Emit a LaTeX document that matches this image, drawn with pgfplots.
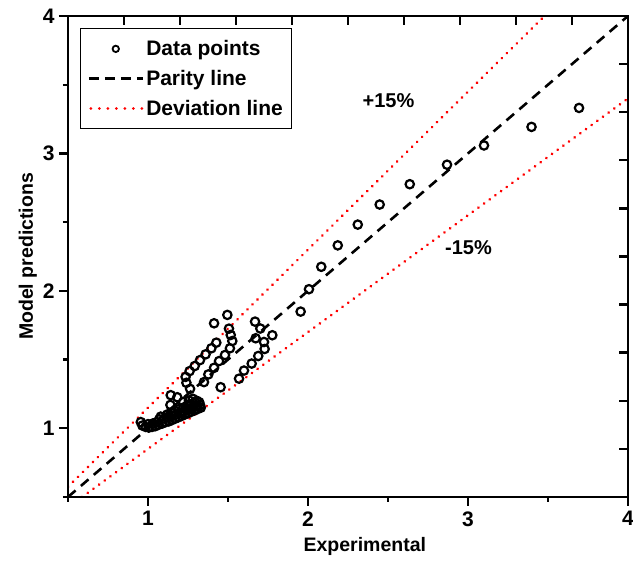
\documentclass[border=0pt]{standalone}
\usepackage{fontspec}
\setmainfont{Liberation Sans}
\usepackage{pgfplots}
\pgfplotsset{compat=1.18}
\begin{document}
\begin{tikzpicture}
\begin{axis}[
  at={(0,0)}, anchor=south west,
  scale only axis, width=560pt, height=481pt,
  xmin=0.5, xmax=4, ymin=0.5, ymax=4,
  xtick={1,2,3,4}, ytick={1,2,3,4},
  minor xtick={0.5,1.5,2.5,3.5}, minor ytick={0.5,1.5,2.5,3.5},
  xtick pos=bottom, ytick pos=left,
  tick align=outside,
  major tick length=9pt, minor tick length=5pt,
  every tick/.style={black, line width=2.4pt},
  every minor tick/.style={black, line width=2.4pt},
  axis line style={line width=2.7pt},
  /pgf/number format/assume math mode=true,
  tick label style={font=\fontsize{21}{25}\selectfont\bfseries},
  xticklabel style={yshift=-2pt},
  yticklabel style={xshift=-1pt},
  xlabel={Experimental}, ylabel={Model predictions},
  label style={font=\fontsize{19.5}{23}\selectfont\bfseries},
  xlabel style={at={(axis description cs:0.53,0)}, anchor=north, yshift=-37pt},
  ylabel style={yshift=-1pt},
  legend style={at={(axis description cs:0.0214,0.975)}, anchor=north west,
    draw=black, line width=1pt, font=\fontsize{21}{25}\selectfont\bfseries,
    cells={anchor=west}, row sep=9pt, inner xsep=7pt, inner ysep=10pt},
  legend cell align=left,
]
\addplot[only marks, mark=o, black, mark size=4.2pt, mark options={line width=2.2pt},
  legend image code/.code={\draw[black, line width=1.8pt] (27pt,0pt) circle (3.2pt);}]
coordinates {
(1.954,1.849) (2.006,2.012) (2.083,2.175) (2.186,2.331) (2.311,2.482) (2.448,2.628)
(2.636,2.776) (2.869,2.918) (3.1,3.058) (3.397,3.193) (3.694,3.331)
(1.669,1.776) (1.702,1.726) (1.673,1.655) (1.725,1.628) (1.729,1.577) (1.689,1.526)
(1.648,1.471) (1.6,1.42) (1.569,1.361) (1.777,1.677) (1.454,1.299)
(1.496,1.825) (1.413,1.764) (1.506,1.725) (1.517,1.679) (1.527,1.635) (1.512,1.582)
(1.481,1.533) (1.444,1.489) (1.413,1.440) (1.377,1.392) (1.35,1.336)
(1.427,1.623) (1.396,1.582) (1.36,1.538) (1.325,1.496) (1.292,1.453) (1.26,1.416)
(1.235,1.374) (1.24,1.331) (1.263,1.287)
(0.955,1.045) (0.965,1.02) (0.985,1.01) (1.005,1.005) (1.025,1.01) (1.045,1.015)
(1.065,1.025) (1.0,1.03) (1.03,1.035) (1.055,1.045) (1.07,1.065) (1.08,1.085)
(1.09,1.035) (1.11,1.045) (1.13,1.05) (1.15,1.06) (1.17,1.07) (1.19,1.08) (1.21,1.09)
(1.23,1.1) (1.25,1.11) (1.27,1.12) (1.29,1.13) (1.31,1.14) (1.33,1.15)
(1.1,1.07) (1.125,1.08) (1.15,1.09) (1.175,1.1) (1.2,1.11) (1.225,1.125) (1.25,1.135)
(1.275,1.145) (1.3,1.16) (1.325,1.17)
(1.12,1.1) (1.145,1.115) (1.17,1.125) (1.195,1.14) (1.22,1.15) (1.245,1.165)
(1.27,1.175) (1.295,1.185) (1.32,1.19)
(1.142,1.241) (1.183,1.226) (1.256,1.202) (1.14,1.17) (1.22,1.19) (1.305,1.2) (1.28,1.215)
};
\addlegendentry{Data points}
\addplot[black, line width=2.6pt, dash pattern=on 10pt off 7pt,
  legend image code/.code={\draw[black, line width=2.6pt, dash pattern=on 10pt off 6pt] (0pt,0pt) -- (54pt,0pt);}]
coordinates {(0.5,0.5) (4,4)};
\addlegendentry{Parity line}
\addplot[red, line width=3pt, line cap=round, dash pattern=on 0.01pt off 7pt,
  legend image code/.code={\draw[red, line width=3pt, line cap=round, dash pattern=on 0.01pt off 8.5pt] (2pt,0pt) -- (54pt,0pt);}]
coordinates {(0.5,0.575) (3.47826,4)};
\addlegendentry{Deviation line}
\addplot[red, line width=3pt, line cap=round, dash pattern=on 0.01pt off 7pt, forget plot]
coordinates {(0.588235,0.5) (4,3.4)};
\node[font=\fontsize{20}{24}\selectfont\bfseries] at (axis cs:2.503,3.382) {+15\%};
\node[font=\fontsize{20}{24}\selectfont\bfseries] at (axis cs:3.003,2.314) {-15\%};
\end{axis}
\begin{axis}[
  at={(0,0)}, anchor=south west,
  scale only axis, width=560pt, height=481pt,
  xmin=0.5, xmax=4, ymin=0.5, ymax=4,
  xtick={0.5,0.85,1.2,1.55,1.9,2.25,2.6,2.95,3.3,3.65,4},
  ytick={0.5,0.85,1.2,1.55,1.9,2.25,2.6,2.95,3.3,3.65,4},
  xticklabels={}, yticklabels={},
  xtick pos=top, ytick pos=right,
  tick align=inside,
  major tick length=9pt,
  every tick/.style={black, line width=2.4pt},
  axis line style={line width=2.7pt},
]
\end{axis}
\pgfresetboundingbox
\path (-68pt,-73pt) rectangle (565pt,497pt);
\end{tikzpicture}
\end{document}
